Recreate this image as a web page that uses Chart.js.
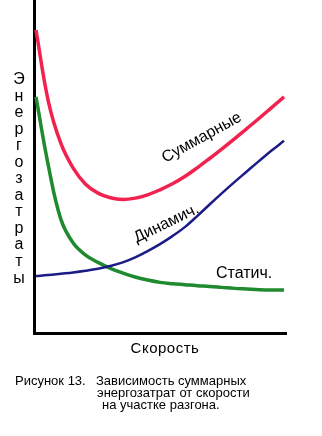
<!DOCTYPE html>
<html lang="ru">
<head>
<meta charset="utf-8">
<title>Рисунок 13</title>
<script src="https://cdn.jsdelivr.net/npm/chart.js@4"></script>
<style>
  html, body { margin: 0; padding: 0; background: #fff; }
  #wrap { position: relative; width: 322px; height: 436px; font-family: "Liberation Sans", Arial, sans-serif; color: #000; }
  #chart-box { position: absolute; left: 0; top: 0; width: 322px; height: 436px; }
  .ylabel { position: absolute; left: 11px; top: 71px; width: 16px; font-size: 16px; line-height: 16.55px; text-align: center; }
  .xlabel { position: absolute; left: 165px; top: 340px; transform: translateX(-50%); font-size: 15px; line-height: 16px; letter-spacing: 0.5px; white-space: nowrap; }
  .cap { position: absolute; font-size: 13px; line-height: 12px; white-space: nowrap; }
</style>
</head>
<body>
<div id="wrap">
  <div id="chart-box"><canvas id="energyChart"></canvas></div>
  <div class="ylabel" id="ylabel"></div>
  <div class="xlabel">Скорость</div>
  <div class="cap" style="left:15px; top:375px;">Рисунок 13.</div>
  <div class="cap" style="left:96px; top:375px;">Зависимость суммарных</div>
  <div class="cap" style="left:97px; top:387px;">энергозатрат от скорости</div>
  <div class="cap" style="left:102px; top:399px;">на участке разгона.</div>
</div>
<script>
// speed along the x axis (arbitrary units)
const speed = [0, 0.5, 1, 1.5, 2, 2.5, 3, 3.5, 4, 4.5, 5, 5.5, 6, 6.5, 7, 7.5, 8, 8.5, 9, 9.5, 10];

// energy costs (arbitrary units, 0..10)
const totalCost   = [9.10, 6.95, 5.70, 4.95, 4.47, 4.20, 4.06, 4.01, 4.05, 4.15, 4.30,
                     4.48, 4.70, 4.96, 5.24, 5.53, 5.83, 6.14, 6.45, 6.77, 7.09];
const dynamicCost = [1.71, 1.74, 1.78, 1.82, 1.87, 1.93, 2.01, 2.12, 2.27, 2.46, 2.67,
                     2.91, 3.18, 3.51, 3.86, 4.20, 4.53, 4.85, 5.17, 5.48, 5.77];
const staticCost  = [7.09, 5.02, 3.42, 2.70, 2.34, 2.12, 1.94, 1.80, 1.68, 1.59, 1.52,
                     1.48, 1.45, 1.42, 1.40, 1.37, 1.34, 1.32, 1.30, 1.29, 1.29];

const seriesNames = ["Суммарные", "Динамич.", "Статич."];
const yTitle = "Энергозатраты";

document.getElementById("ylabel").innerHTML = yTitle.split("").join("<br>");

function toPoints(values) {
    return values.map((v, i) => ({ x: speed[i], y: v }));
}

// writes the series name next to each curve, rotated along it
const curveLabels = {
    id: "curveLabels",
    afterDatasetsDraw(chart, args, opts) {
        const { ctx, scales: { x, y } } = chart;
        ctx.save();
        ctx.font = '16px "Liberation Sans", Arial, sans-serif';
        ctx.fillStyle = "#000";
        ctx.textAlign = "center";
        ctx.textBaseline = "alphabetic";
        opts.items.forEach(item => {
            ctx.save();
            ctx.translate(x.getPixelForValue(item.x), y.getPixelForValue(item.y));
            ctx.rotate(-item.angle * Math.PI / 180);
            ctx.fillText(chart.data.datasets[item.dataset].label, 0, 0);
            ctx.restore();
        });
        ctx.restore();
    }
};

const axisBase = {
    type: "linear",
    ticks: { display: false },
    grid: { display: false, drawTicks: false },
    border: { display: true, color: "#000", width: 3 }
};

new Chart(document.getElementById("energyChart"), {
    type: "line",
    data: {
        datasets: [
            { label: seriesNames[0], data: toPoints(totalCost), borderColor: "#f2224e", borderWidth: 3.5 },
            { label: seriesNames[1], data: toPoints(dynamicCost), borderColor: "#1c1c86", borderWidth: 2.5 },
            { label: seriesNames[2], data: toPoints(staticCost), borderColor: "#1f8a2e", borderWidth: 3.5 }
        ]
    },
    options: {
        responsive: true,
        maintainAspectRatio: false,
        animation: false,
        layout: { padding: { left: 0, right: 36, top: 0, bottom: 0 } },
        elements: {
            point: { radius: 0 },
            line: { tension: 0.4, fill: false }
        },
        scales: {
            x: { ...axisBase, min: -0.08, max: 10.08, afterFit(scale) { scale.height = 103; } },
            y: { ...axisBase, min: 0, max: 10, afterFit(scale) { scale.width = 34; } }
        },
        plugins: {
            legend: { display: false },
            tooltip: { enabled: false },
            curveLabels: {
                items: [
                    { dataset: 0, x: 6.77, y: 5.75, angle: 29 },
                    { dataset: 1, x: 5.34, y: 3.17, angle: 26 },
                    { dataset: 2, x: 8.39, y: 1.65, angle: 0 }
                ]
            }
        }
    },
    plugins: [curveLabels]
});
</script>
</body>
</html>
